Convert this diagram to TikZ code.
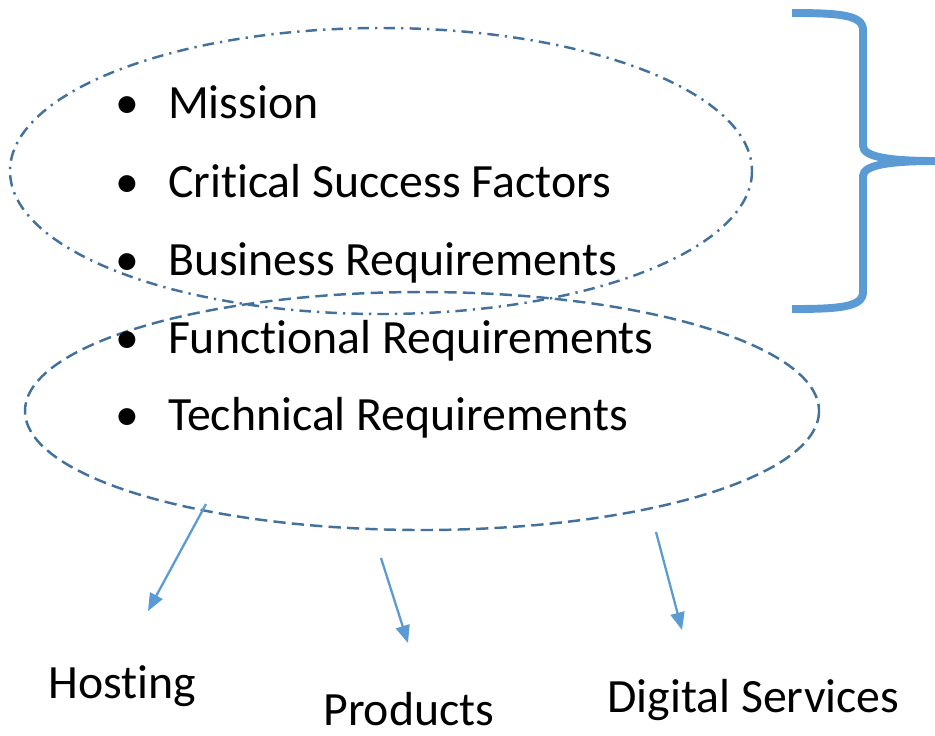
\documentclass[tikz,border=0pt]{standalone}
\usepackage{fontspec}
\setmainfont{Carlito}[Ligatures=NoCommon]
\usetikzlibrary{arrows.meta}
\definecolor{ringblue}{HTML}{41719C}
\definecolor{lightblue}{HTML}{5B9BD5}
\newcommand{\itembul}{\makebox[46.5pt]{\textbullet}}
\tikzset{
    item/.style={anchor=base west, inner sep=0pt},
    outer/.style={draw=ringblue, line width=1.4pt, dash pattern=on 6.5pt off 3.5pt on 1.3pt off 3.5pt},
    inner/.style={draw=ringblue, line width=1.4pt, dash pattern=on 7pt off 3.5pt},
    brace/.style={draw=lightblue, line width=4.5pt},
    link/.style={draw=lightblue, line width=1.3pt, -{Triangle[length=10pt,width=8pt]}}
}

\begin{document}
\begin{tikzpicture}
  [
    x                       = 0.02cm,
    y                       = -0.02cm,
    every node/.style       = {font=\fontsize{27.2}{32}\selectfont},
  ]
  \useasboundingbox (0,0) rectangle (935,735);
  % the two rings
  \draw [outer] (381,171) ellipse [x radius=371, y radius=143];
  \draw [inner] (422,411) ellipse [x radius=397, y radius=119];
  % bullet list
  \node [item] (mission)    at (86,118) {\itembul Mission};
  \node [item] (factors)    at (86,197) {\itembul Critical Success Factors};
  \node [item] (business)   at (86,275) {\itembul Business Requirements};
  \node [item] (functional) at (86,353) {\itembul Functional Requirements};
  \node [item] (technical)  at (86,430) {\itembul Technical Requirements};
  % brace
  \draw [brace] (792,13) .. controls (840,13) and (863,15) .. (863,30) -- (863,146)
    .. controls (863,157) and (890,161) .. (935,161)
    .. controls (890,161) and (863,165) .. (863,176) -- (863,292)
    .. controls (863,307) and (840,309) .. (792,309);
  % outputs
  \node [item] (hosting)  at (48,698)  {Hosting};
  \node [item] (products) at (323,725) {Products};
  \node [item] (digital)  at (607,712) {Digital Services};
  \coordinate (h1) at (206,504);
  \coordinate (h2) at (148,611);
  \coordinate (p1) at (381,558);
  \coordinate (p2) at (408,643);
  \coordinate (d1) at (656,532);
  \coordinate (d2) at (682,630);
  \draw [link] (h1) -- (h2);
  \draw [link] (p1) -- (p2);
  \draw [link] (d1) -- (d2);
\end{tikzpicture}
\end{document}
